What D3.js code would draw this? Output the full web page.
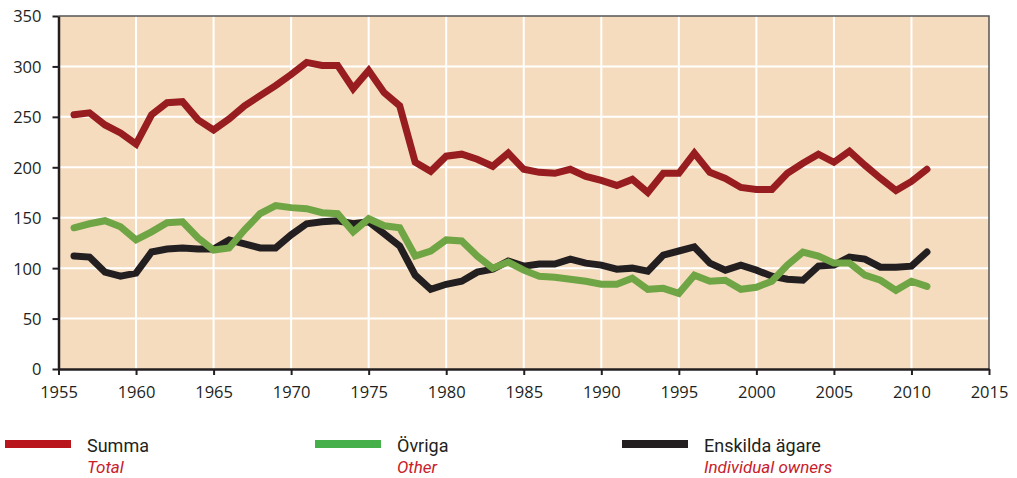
<!DOCTYPE html>
<html>
<head>
<meta charset="utf-8">
<script src="https://cdn.jsdelivr.net/npm/d3@7"></script>
<style>
  body { margin: 0; background: #fff; }
  svg text { font-family: "Open Sans", "DejaVu Sans", sans-serif; }
  .legend text { font-family: "Liberation Sans Narrow", "Roboto", sans-serif; }
</style>
</head>
<body>
<svg id="chart" width="1017" height="478"></svg>
<script>
const years = d3.range(1956, 2012);
const summa = [252, 254, 242, 234, 223, 252, 264, 265, 247, 237, 248, 261, 271, 281, 292, 304, 301, 301, 278, 296,
  274, 261, 205, 196, 211, 213, 208, 201, 214, 198, 195, 194, 198, 191, 187, 182, 188, 175, 194, 194,
  214, 195, 189, 180, 178, 178, 194, 204, 213, 205, 216, 202, 189, 177, 186, 198];
const ovriga = [140, 144, 147, 141, 128, 136, 145, 146, 130, 118, 120, 138, 154, 162, 160, 159, 155, 154, 136, 149,
  142, 140, 112, 117, 128, 127, 112, 100, 106, 98, 92, 91, 89, 87, 84, 84, 90, 79, 80, 75,
  93, 87, 88, 79, 81, 87, 103, 116, 112, 105, 105, 93, 88, 78, 87, 82];
const enskilda = [112, 111, 96, 92, 95, 116, 119, 120, 119, 119, 128, 124, 120, 120, 133, 144, 146, 147, 144, 146,
  134, 122, 93, 79, 84, 87, 96, 99, 107, 102, 104, 104, 109, 105, 103, 99, 100, 97, 113, 117,
  121, 105, 98, 103, 98, 92, 89, 88, 102, 103, 111, 109, 101, 101, 102, 116];
const xTicks = d3.range(1955, 2016, 5);
const yTicks = d3.range(0, 351, 50);

const series = [
  { name: "Summa", en: "Total", values: summa, color: "#981d20", legendColor: "#b8161c", lx: 5 },
  { name: "Övriga", en: "Other", values: ovriga, color: "#6fa544", legendColor: "#45b04a", lx: 315 },
  { name: "Enskilda ägare", en: "Individual owners", values: enskilda, color: "#231f20", legendColor: "#231f20", lx: 622 }
];

const svg = d3.select("#chart");
const margin = { left: 58.5, right: 28, top: 16, bottom: 109 };
const width = 1017, height = 478;

const x = d3.scaleLinear().domain([1955, 2015]).range([margin.left, width - margin.right]);
const y = d3.scaleLinear().domain([0, 350]).range([height - margin.bottom, margin.top]);

// background
svg.append("rect")
  .attr("x", x(1955)).attr("y", y(350))
  .attr("width", x(2015) - x(1955)).attr("height", y(0) - y(350))
  .attr("fill", "#f5dcbf");

// grid
svg.append("g").selectAll("line.v")
  .data(xTicks.slice(1, -1))
  .join("line")
  .attr("x1", d => x(d)).attr("x2", d => x(d))
  .attr("y1", y(350)).attr("y2", y(0))
  .attr("stroke", "#fff").attr("stroke-width", 2);
svg.append("g").selectAll("line.h")
  .data(yTicks.slice(1, -1))
  .join("line")
  .attr("x1", x(1955)).attr("x2", x(2015))
  .attr("y1", d => y(d)).attr("y2", d => y(d))
  .attr("stroke", "#fff").attr("stroke-width", 2);

// frame top/right
svg.append("path")
  .attr("d", `M${x(1955)},${y(350)}H${x(2015)}V${y(0)}`)
  .attr("fill", "none").attr("stroke", "#555").attr("stroke-width", 1.5);

// lines
const line = d3.line().x((d, i) => x(years[i])).y(d => y(d));
svg.append("g").selectAll("path")
  .data(series.slice().reverse())
  .join("path")
  .attr("d", d => line(d.values))
  .attr("fill", "none")
  .attr("stroke", d => d.color)
  .attr("stroke-width", 7)
  .attr("stroke-linejoin", "miter")
  .attr("stroke-linecap", "round");

// axes
const xAxis = svg.append("g")
  .attr("transform", `translate(0,${y(0)})`)
  .call(d3.axisBottom(x).tickValues(xTicks).tickFormat(d3.format("d")).tickSize(6).tickSizeOuter(0));
const yAxis = svg.append("g")
  .attr("transform", `translate(${x(1955)},0)`)
  .call(d3.axisLeft(y).tickValues(yTicks).tickSize(6).tickSizeOuter(0));
[xAxis, yAxis].forEach(a => {
  a.select(".domain").attr("stroke", "#231f20").attr("stroke-width", 2.5);
  a.selectAll(".tick line").attr("stroke", "#231f20").attr("stroke-width", 2);
  a.selectAll("text").attr("fill", "#231f20").style("font-size", "16.5px");
});
xAxis.selectAll("text").attr("y", 29).attr("dy", 0);
yAxis.selectAll("text").attr("x", -17).attr("dy", "0.36em");

// legend
const lg = svg.append("g").attr("class", "legend")
  .selectAll("g").data(series).join("g")
  .attr("transform", d => `translate(${d.lx},0)`);
lg.append("rect")
  .attr("x", 0).attr("y", 440)
  .attr("width", 66).attr("height", 8)
  .attr("fill", d => d.legendColor);
lg.append("text")
  .attr("x", 82).attr("y", 452)
  .attr("fill", "#231f20")
  .style("font-size", "18px")
  .text(d => d.name);
lg.append("text")
  .attr("x", 82).attr("y", 473)
  .attr("fill", "#c8202b")
  .style("font-size", "17px")
  .style("font-style", "italic")
  .text(d => d.en);
</script>
</body>
</html>
